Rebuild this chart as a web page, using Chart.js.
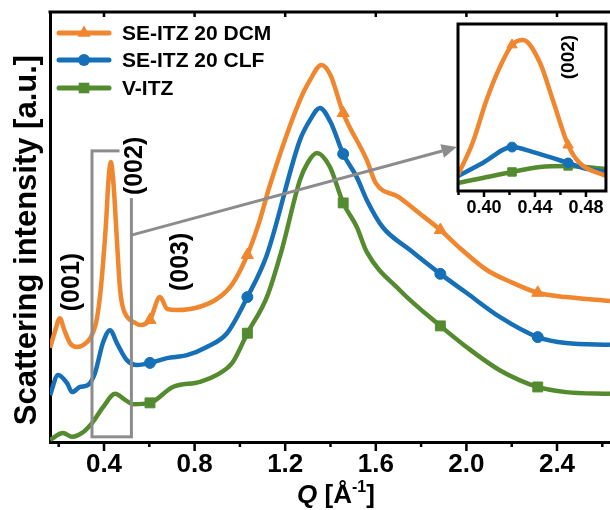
<!DOCTYPE html>
<html>
<head>
<meta charset="utf-8">
<script src="https://cdn.jsdelivr.net/npm/chart.js"></script>
<style>
  html, body { margin: 0; padding: 0; background: #fff; }
  #wrap { position: relative; width: 610px; height: 510px; overflow: hidden; }
  #main { position: absolute; left: 0; top: 0; }
  #inset { position: absolute; left: 440px; top: 10px; }
</style>
</head>
<body>
<div id="wrap">
  <canvas id="main" width="610" height="510"></canvas>
  <canvas id="inset" width="170" height="215"></canvas>
</div>
<script>
// ---- data (Q in 1/Å, intensity in a.u., curves offset) ----
const qDCM = [0.162, 0.185, 0.205, 0.225, 0.25, 0.28, 0.31, 0.34, 0.365, 0.382, 0.395, 0.409, 0.42, 0.43, 0.442, 0.457, 0.47, 0.48, 0.502, 0.537, 0.56, 0.603, 0.647, 0.68, 0.72, 0.82, 0.91, 0.97, 1.033, 1.088, 1.13, 1.265, 1.31, 1.36, 1.40, 1.456, 1.56, 1.60, 1.70, 1.79, 1.885, 1.98, 2.09, 2.205, 2.315, 2.44, 2.634];
const iDCM = [21.9, 26.0, 28.8, 26.0, 23.0, 22.1, 22.6, 24.2, 27.7, 33.7, 41.0, 51.0, 61.0, 65.1, 60.0, 47.0, 36.0, 32.0, 29.1, 27.7, 27.2, 28.4, 33.7, 30.9, 30.7, 31.4, 33.7, 37.0, 43.5, 51.6, 59.3, 79.5, 84.2, 87.7, 85.3, 76.5, 65.6, 60.2, 57.0, 53.3, 49.3, 44.7, 40.0, 37.0, 34.7, 33.7, 32.8];

const qCLF = [0.162, 0.197, 0.237, 0.259, 0.294, 0.33, 0.36, 0.395, 0.427, 0.457, 0.50, 0.546, 0.603, 0.678, 0.766, 0.854, 0.943, 1.033, 1.119, 1.265, 1.31, 1.353, 1.40, 1.456, 1.516, 1.56, 1.63, 1.75, 1.885, 2.0, 2.147, 2.315, 2.44, 2.634];
const iCLF = [10.9, 15.6, 13.7, 11.6, 12.8, 13.3, 16.0, 23.0, 26.0, 23.0, 19.1, 17.9, 18.4, 19.5, 20.2, 22.1, 25.3, 33.7, 43.5, 70.2, 74.9, 77.7, 74.4, 67.0, 61.6, 56.3, 50.0, 44.7, 39.1, 34.7, 29.1, 24.4, 23.0, 22.6];

const qVITZ = [0.162, 0.219, 0.259, 0.303, 0.347, 0.396, 0.449, 0.493, 0.528, 0.603, 0.704, 0.824, 0.912, 0.969, 1.033, 1.119, 1.185, 1.265, 1.30, 1.34, 1.397, 1.456, 1.516, 1.56, 1.706, 1.885, 2.0, 2.147, 2.315, 2.44, 2.634];
const iVITZ = [0.5, 2.1, 1.2, 2.1, 4.4, 8.1, 11.2, 9.8, 8.8, 9.1, 12.8, 14.0, 16.0, 18.6, 25.3, 33.7, 44.7, 60.9, 65.0, 67.2, 64.0, 55.6, 50.0, 44.2, 35.3, 27.0, 22.1, 16.7, 12.8, 11.6, 11.2];

const markerQ = [0.603, 1.033, 1.456, 1.885, 2.315];

// inset: zoom on the (002) reflection
const qDCMin = [0.3796, 0.391, 0.402, 0.4125, 0.422, 0.4306, 0.444, 0.454, 0.466, 0.475, 0.4957];
const iDCMin = [9.6, 28.7, 54.5, 74.3, 87.5, 90.4, 76.6, 54.5, 27.5, 16.8, 9.0];
const qCLFin = [0.3796, 0.399, 0.422, 0.438, 0.466, 0.478, 0.4957];
const iCLFin = [9.0, 16.8, 26.3, 23.4, 16.8, 13.8, 11.4];
const qVITZin = [0.3796, 0.399, 0.422, 0.444, 0.466, 0.4957];
const iVITZin = [4.8, 7.8, 11.4, 14.4, 15.0, 13.2];
const insetMarkerQ = [0.422, 0.466];

const labels = ['SE-ITZ 20 DCM', 'SE-ITZ 20 CLF', 'V-ITZ'];
const xMajor = [0.4, 0.8, 1.2, 1.6, 2.0, 2.4];
const xMinor = [0.2, 0.6, 1.0, 1.4, 1.8, 2.2, 2.6];
const insetMajor = [0.40, 0.44, 0.48];
const insetMinor = [0.38, 0.42, 0.46];

// peak labels: [text, q, intensity]
const peakLabels = [['(001)', 0.259, 37.2], ['(002)', 0.537, 64.2], ['(003)', 0.740, 41.9]];

// ---- styling ----
const FONT = '"Liberation Sans", Arial, sans-serif';
const ORANGE = '#F0862E';
const BLUE = '#1570B8';
const GREEN = '#558B2F';
const GRAY = '#8c8c8c';
const colors = [ORANGE, BLUE, GREEN];
const shapes = ['triangle', 'circle', 'rect'];
const radii = [7, 5.5, 7];

Chart.defaults.font.family = FONT;
Chart.defaults.color = '#000';

function series(q, v) { return q.map((x, i) => ({ x: x, y: v[i] })); }
function markerRadius(list, r) {
  return ctx => (ctx.raw && list.some(m => Math.abs(m - ctx.raw.x) < 1e-6)) ? r : 0;
}
function makeSet(i, q, v, list, lw, scale) {
  return {
    label: labels[i],
    data: series(q, v),
    borderColor: colors[i],
    backgroundColor: colors[i],
    borderWidth: lw,
    pointStyle: shapes[i],
    pointRadius: markerRadius(list, radii[i] * scale),
    pointBorderWidth: 1,
    pointBorderColor: colors[i],
    pointBackgroundColor: colors[i],
    cubicInterpolationMode: 'monotone',
    fill: false
  };
}

function drawMarker(ctx, shape, x, y, r) {
  ctx.beginPath();
  if (shape === 'circle') {
    ctx.arc(x, y, r, 0, Math.PI * 2);
  } else if (shape === 'rect') {
    const h = r * Math.SQRT1_2;
    ctx.rect(x - h, y - h, 2 * h, 2 * h);
  } else {
    ctx.moveTo(x, y - r);
    ctx.lineTo(x + r * 0.866, y + r * 0.5);
    ctx.lineTo(x - r * 0.866, y + r * 0.5);
    ctx.closePath();
  }
  ctx.fill();
}

function line(ctx, x1, y1, x2, y2) {
  ctx.beginPath(); ctx.moveTo(x1, y1); ctx.lineTo(x2, y2); ctx.stroke();
}

function rotatedText(ctx, text, x, y, size, bg) {
  ctx.save();
  ctx.translate(x, y);
  ctx.rotate(-Math.PI / 2);
  ctx.font = 'bold ' + size + 'px ' + FONT;
  ctx.textAlign = 'center';
  ctx.textBaseline = 'middle';
  if (bg) {
    const w = ctx.measureText(text).width;
    ctx.fillStyle = '#fff';
    ctx.fillRect(-w / 2 - 3, -size / 2 - 3, w + 6, size + 6);
  }
  ctx.fillStyle = '#000';
  ctx.fillText(text, 0, 0);
  ctx.restore();
}

const mainDecor = {
  id: 'mainDecor',
  afterDatasetsDraw(chart) {
    const { ctx, chartArea: a, scales: { x, y } } = chart;
    ctx.save();
    ctx.strokeStyle = '#000';
    ctx.lineCap = 'butt';

    // top frame line + ticks
    ctx.lineWidth = 3;
    line(ctx, a.left - 1.5, a.top, a.right, a.top);
    ctx.lineWidth = 2.5;
    xMajor.forEach(v => {
      const px = x.getPixelForValue(v);
      line(ctx, px, a.bottom, px, a.bottom + 9);
      line(ctx, px, a.top, px, a.top + 5);
    });
    xMinor.forEach(v => {
      const px = x.getPixelForValue(v);
      line(ctx, px, a.bottom, px, a.bottom + 5);
    });

    // zoom box around (002) and arrow to the inset
    ctx.strokeStyle = GRAY;
    ctx.fillStyle = GRAY;
    ctx.lineWidth = 3;
    const bx1 = x.getPixelForValue(0.347), bx2 = x.getPixelForValue(0.521);
    const by1 = y.getPixelForValue(67.7), by2 = y.getPixelForValue(1.2);
    ctx.strokeRect(bx1, by1, bx2 - bx1, by2 - by1);

    const ax1 = x.getPixelForValue(0.521), ay1 = y.getPixelForValue(48.1);
    const ax2 = x.getPixelForValue(1.957), ay2 = y.getPixelForValue(68.6);
    const ang = Math.atan2(ay2 - ay1, ax2 - ax1);
    const hl = 15, hw = 7;
    const sx = ax2 - hl * Math.cos(ang), sy = ay2 - hl * Math.sin(ang);
    line(ctx, ax1, ay1, sx, sy);
    ctx.beginPath();
    ctx.moveTo(ax2, ay2);
    ctx.lineTo(sx + hw * Math.sin(ang), sy - hw * Math.cos(ang));
    ctx.lineTo(sx - hw * Math.sin(ang), sy + hw * Math.cos(ang));
    ctx.closePath();
    ctx.fill();

    // peak labels
    peakLabels.forEach(([t, q, v], i) => {
      rotatedText(ctx, t, x.getPixelForValue(q), y.getPixelForValue(v), 25, i === 1);
    });

    // legend
    ctx.font = 'bold 21px ' + FONT;
    ctx.textBaseline = 'middle';
    ctx.textAlign = 'left';
    const rows = [21, 48, 76];
    chart.data.datasets.forEach((ds, i) => {
      const ly = a.top + rows[i];
      ctx.strokeStyle = colors[i];
      ctx.fillStyle = colors[i];
      ctx.lineWidth = 5;
      ctx.lineCap = 'round';
      line(ctx, a.left + 9, ly, a.left + 59, ly);
      drawMarker(ctx, shapes[i], a.left + 34, ly, radii[i] + 0.5);
      ctx.fillStyle = '#000';
      ctx.fillText(ds.label, a.left + 72, ly + 1);
    });

    // y title
    ctx.save();
    ctx.translate(36, 240);
    ctx.rotate(-Math.PI / 2);
    ctx.font = 'bold 31px ' + FONT;
    ctx.textAlign = 'center';
    ctx.textBaseline = 'alphabetic';
    ctx.fillStyle = '#000';
    ctx.fillText('Scattering intensity [a.u.]', 0, 0);
    ctx.restore();

    // x title: Q [Å^-1]
    const parts = [
      { t: 'Q', f: 'italic bold 26px ' + FONT, dy: 0 },
      { t: ' [Å', f: 'bold 26px ' + FONT, dy: 0 },
      { t: '-1', f: 'bold 16px ' + FONT, dy: -11 },
      { t: ']', f: 'bold 26px ' + FONT, dy: 0 }
    ];
    ctx.textBaseline = 'alphabetic';
    ctx.fillStyle = '#000';
    let total = 0;
    parts.forEach(p => { ctx.font = p.f; p.w = ctx.measureText(p.t).width; total += p.w; });
    let cx = 336 - total / 2;
    parts.forEach(p => { ctx.font = p.f; ctx.fillText(p.t, cx, 503 + p.dy); cx += p.w; });

    ctx.restore();
  }
};

new Chart(document.getElementById('main'), {
  type: 'line',
  data: {
    datasets: [
      makeSet(0, qDCM, iDCM, markerQ, 4.5, 1),
      makeSet(1, qCLF, iCLF, markerQ, 4.5, 1),
      makeSet(2, qVITZ, iVITZ, markerQ, 4.5, 1)
    ]
  },
  options: {
    responsive: false,
    animation: false,
    events: [],
    layout: { padding: { top: 12, right: 0, bottom: 0, left: 0 } },
    plugins: { legend: { display: false }, tooltip: { enabled: false } },
    scales: {
      x: {
        type: 'linear',
        min: 0.1616,
        max: 2.634,
        afterBuildTicks: s => { s.ticks = xMajor.map(v => ({ value: v })); },
        ticks: {
          callback: v => v.toFixed(1),
          font: { size: 26, weight: 'bold' },
          color: '#000',
          padding: 7,
          autoSkip: false,
          maxRotation: 0
        },
        grid: { display: false, drawTicks: false },
        border: { display: true, color: '#000', width: 3 },
        afterFit: s => { s.height = 68; }
      },
      y: {
        min: 0,
        max: 100,
        ticks: { display: false },
        grid: { display: false, drawTicks: false },
        border: { display: true, color: '#000', width: 3 },
        afterFit: s => { s.width = 50; }
      }
    }
  },
  plugins: [mainDecor]
});

const insetDecor = {
  id: 'insetDecor',
  beforeDatasetsDraw(chart) {
    const { ctx, chartArea: a } = chart;
    ctx.save();
    ctx.fillStyle = '#fff';
    ctx.fillRect(a.left, a.top, a.right - a.left, a.bottom - a.top);
    ctx.restore();
  },
  afterDatasetsDraw(chart) {
    const { ctx, chartArea: a, scales: { x, y } } = chart;
    ctx.save();
    ctx.strokeStyle = '#000';
    ctx.lineWidth = 3;
    ctx.strokeRect(a.left, a.top, a.right - a.left, a.bottom - a.top);
    ctx.lineWidth = 2.5;
    insetMajor.forEach(v => {
      const px = x.getPixelForValue(v);
      line(ctx, px, a.bottom, px, a.bottom + 6);
    });
    insetMinor.forEach(v => {
      const px = x.getPixelForValue(v);
      line(ctx, px, a.bottom, px, a.bottom + 4);
    });
    rotatedText(ctx, '(002)', x.getPixelForValue(0.4666), y.getPixelForValue(80.2), 19, false);
    ctx.restore();
  }
};

new Chart(document.getElementById('inset'), {
  type: 'line',
  data: {
    datasets: [
      makeSet(0, qDCMin, iDCMin, insetMarkerQ, 4.5, 0.85),
      makeSet(1, qCLFin, iCLFin, insetMarkerQ, 4.5, 0.9),
      makeSet(2, qVITZin, iVITZin, insetMarkerQ, 4.5, 0.85)
    ]
  },
  options: {
    responsive: false,
    animation: false,
    events: [],
    layout: { padding: { top: 14, right: 4, bottom: 0, left: 0 } },
    plugins: { legend: { display: false }, tooltip: { enabled: false } },
    scales: {
      x: {
        type: 'linear',
        min: 0.3796,
        max: 0.4957,
        afterBuildTicks: s => { s.ticks = insetMajor.map(v => ({ value: v })); },
        ticks: {
          callback: v => v.toFixed(2),
          font: { size: 18, weight: 'bold' },
          color: '#000',
          padding: 6,
          autoSkip: false,
          maxRotation: 0
        },
        grid: { display: false, drawTicks: false },
        border: { display: false },
        afterFit: s => { s.height = 34; }
      },
      y: {
        min: 0,
        max: 100,
        ticks: { display: false },
        grid: { display: false, drawTicks: false },
        border: { display: false },
        afterFit: s => { s.width = 18; }
      }
    }
  },
  plugins: [insetDecor]
});
</script>
</body>
</html>
